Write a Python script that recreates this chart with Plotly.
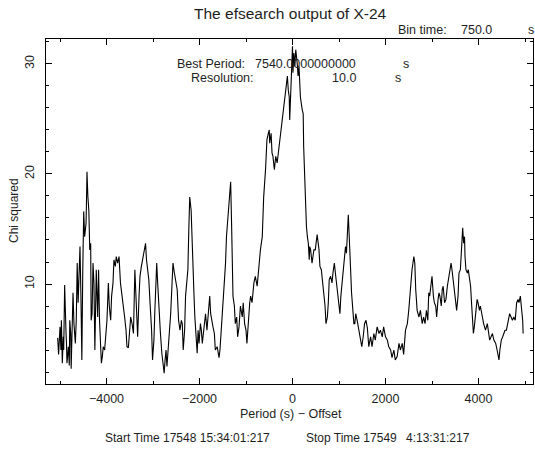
import plotly.graph_objects as go

# ---- data (period offset in s, chi squared) ----
period = [
    -5050, -5030, -5000, -4980, -4970, -4950, -4930, -4920, -4900, -4890, -4870, -4860, -4850, -4820,
    -4800, -4790, -4770, -4760, -4740, -4720, -4700, -4670, -4650, -4630, -4610, -4590, -4570, -4550,
    -4530, -4510, -4490, -4470, -4440, -4430, -4420, -4400, -4380, -4360, -4340, -4330, -4310, -4290,
    -4270, -4250, -4230, -4220, -4190, -4170, -4150, -4130, -4110, -4090, -4070, -4040, -4010, -3990,
    -3960, -3940, -3910, -3890, -3860, -3840, -3810, -3790, -3760, -3730, -3700, -3670, -3640, -3610,
    -3580, -3560, -3530, -3500, -3480, -3450, -3420, -3390, -3360, -3330, -3300, -3280, -3250, -3220,
    -3190, -3160, -3140, -3120, -3090, -3060, -3030, -3010, -2980, -2960, -2940, -2920, -2900, -2870,
    -2840, -2810, -2780, -2760, -2740, -2720, -2700, -2670, -2650, -2620, -2590, -2570, -2540, -2510,
    -2480, -2450, -2420,
    -2390, -2370, -2350, -2320, -2300, -2280, -2250, -2230, -2210, -2180, -2160, -2140, -2120, -2100,
    -2080, -2050, -2030, -2010, -1980, -1960, -1940, -1910, -1870, -1840, -1800, -1780, -1760, -1730,
    -1710, -1680, -1660, -1620, -1580, -1560, -1530, -1510, -1490, -1460, -1440, -1420, -1390, -1360,
    -1330, -1310, -1300, -1280, -1250, -1230, -1200, -1180, -1150, -1120, -1080, -1060, -1030, -1000,
    -980, -950, -920, -900, -870, -830, -800, -760, -720, -690, -650, -620, -580, -550,
    -520, -500, -490, -460, -440, -420, -390, -360, -330, -290, -260, -220, -190, -150,
    -110, -90, -70, -60, -40, -20, 0, 10, 30, 50, 70, 100, 120, 140, 170,
    210, 230, 240, 260, 280, 300, 320, 340, 360, 370, 390, 420, 440, 460, 490, 530, 570, 590,
    620, 650, 670, 700, 720, 750, 770, 790, 820, 850, 870, 900, 930, 960, 1000, 1020, 1040, 1070,
    1100, 1140, 1160, 1180, 1200, 1220, 1230, 1250, 1270, 1290, 1320, 1340, 1360, 1390, 1430, 1460,
    1490, 1520, 1550, 1580, 1610, 1640, 1680, 1710, 1750, 1780, 1820, 1860, 1890, 1930, 1960, 2000,
    2040, 2070, 2110, 2140, 2180, 2210, 2250, 2290, 2320, 2360, 2390, 2430, 2470, 2500, 2540, 2570,
    2610, 2630, 2650, 2680, 2720, 2750,
    2790, 2820, 2850, 2880, 2910, 2930, 2950, 2980, 3000, 3030, 3050, 3080, 3100, 3130, 3150, 3170,
    3200, 3220, 3240, 3270, 3300, 3330, 3350, 3380, 3410, 3430, 3460, 3480, 3500, 3530, 3560, 3580,
    3610, 3630, 3650, 3660, 3680, 3700, 3710, 3730, 3760, 3780, 3800, 3830, 3850, 3870, 3890, 3910,
    3940, 3970, 3990, 4020, 4040, 4080, 4110, 4150, 4190, 4220, 4240, 4270, 4300, 4330, 4370, 4400,
    4440, 4460, 4490, 4520, 4540, 4570, 4600, 4630, 4650, 4670, 4700, 4730, 4760, 4790, 4820, 4850,
    4870, 4900, 4920, 4950, 4960,
]
chi2 = [
    5.1, 3.6, 6.1, 4.0, 6.7, 2.8, 5.2, 4.0, 9.9, 7.3, 5.5, 4.6, 2.8, 4.3,
    2.6, 6.7, 5.5, 2.3, 5.8, 9.2, 6.4, 4.6, 6.7, 11.9, 8.3, 10.4, 13.4, 8.9,
    3.1, 11.3, 16.6, 14.3, 15.5, 17.6, 20.2, 17.9, 16.7, 13.1, 13.7, 6.7, 7.3, 11.9,
    10.1, 4.0, 8.9, 11.3, 7.0, 11.3, 6.7, 4.0, 2.8, 3.4, 4.3, 4.0, 5.8, 6.7,
    10.1, 8.0, 6.7, 8.9, 10.1, 12.2, 11.6, 12.5, 11.9, 12.5, 10.1, 9.2, 8.3, 7.0,
    5.8, 4.3, 4.2, 5.8, 7.0, 6.4, 5.5, 11.3, 8.0, 5.2, 8.9, 10.7, 11.6, 12.2,
    12.8, 13.7, 12.2, 11.3, 10.4, 8.0, 5.8, 3.1, 4.9, 7.6, 10.1, 11.9, 10.1, 7.3,
    5.5, 3.7, 2.8, 1.9, 3.1, 4.0, 2.5, 4.0, 5.8, 7.3, 10.1, 11.9, 11.0, 10.1,
    9.5, 6.7, 5.8,
    6.7, 6.4, 4.0, 5.8, 8.9, 10.1, 11.3, 14.9, 17.9, 16.7, 13.4, 11.9, 9.2, 7.0,
    5.8, 3.7, 5.8, 4.6, 6.4, 5.8, 4.6, 6.1, 7.3, 5.8, 8.0, 8.9, 7.3, 6.4,
    6.1, 5.5, 4.0, 4.3, 3.3, 4.0, 5.8, 7.6, 8.0, 10.7, 11.9, 14.3, 16.1, 17.6,
    19.3, 15.5, 13.1, 8.9, 8.0, 6.4, 7.0, 5.2, 6.1, 8.0, 7.0, 8.3, 6.4, 5.8,
    4.6, 7.0, 8.3, 8.9, 8.3, 10.1, 10.7, 9.8, 12.2, 13.1, 14.3, 17.9, 20.4, 23.1,
    23.7, 24.0, 22.8, 23.7, 21.9, 21.6, 20.4, 21.6, 21.0, 22.5, 23.4, 24.6, 25.8, 27.6,
    28.9, 27.6, 27.0, 24.9, 27.9, 30.7, 31.6, 29.2, 31.0, 29.8, 31.3, 30.1, 28.9, 29.8, 27.0,
    25.8, 25.5, 22.5, 19.5, 16.4, 15.2, 14.3, 13.7, 12.2, 13.4, 13.1, 11.9, 12.5, 13.1, 13.1, 14.5, 13.1, 11.6,
    11.3, 10.1, 9.2, 8.0, 6.4, 7.0, 8.3, 10.4, 10.7, 10.1, 11.0, 11.9, 10.7, 9.5, 8.0, 7.3, 8.9, 10.1,
    11.9, 13.4, 12.8, 14.6, 16.3, 14.3, 12.8, 11.3, 9.2, 8.0, 6.4, 6.4, 7.3, 6.7, 5.8, 4.9,
    4.3, 5.2, 6.4, 6.7, 6.0, 4.3, 5.2, 4.3, 5.5, 4.9, 6.1, 5.5, 5.8, 5.2, 6.1, 5.2,
    4.9, 4.3, 4.0, 3.3, 4.0, 3.1, 3.4, 4.6, 4.0, 4.6, 3.6, 5.8, 6.4, 7.6, 10.1, 11.3,
    12.5, 11.9, 9.5, 7.6, 7.0, 7.6,
    6.4, 7.0, 6.4, 7.6, 6.7, 9.2, 8.9, 10.1, 10.7, 8.9, 8.3, 8.0, 7.0, 8.6, 9.2, 8.9,
    8.0, 9.5, 9.8, 8.3, 8.6, 9.8, 10.4, 11.0, 11.9, 11.3, 10.1, 9.5, 8.3, 7.6, 8.9, 11.0,
    11.3, 12.5, 13.7, 15.1, 13.7, 14.3, 12.5, 11.3, 11.0, 11.3, 10.7, 9.8, 8.3, 6.4, 5.5, 6.1,
    7.3, 8.6, 8.3, 7.6, 8.0, 7.0, 6.4, 5.8, 6.4, 5.5, 4.9, 5.2, 5.5, 4.9, 4.6, 4.0,
    3.1, 4.0, 4.9, 5.2, 5.5, 5.8, 5.8, 6.4, 7.0, 7.3, 7.0, 6.7, 7.0, 6.7, 8.3, 8.6,
    8.3, 8.9, 8.0, 6.7, 5.5,
]

x_tick_step = 2000
y_tick_step = 10

# ---- geometry of the reference (pixels) ----
WIDTH, HEIGHT = 535, 452
L, R, T, B = 46, 533, 39, 384
PW, PH = R - L, B - T


def px(x):
    return (x - L) / PW


def py(y):
    return (B - y) / PH


TXT = "#1e1e1e"
FONT = "Liberation Sans"

fig = go.Figure()
fig.add_trace(go.Scatter(x=period, y=chi2, mode="lines",
                         line=dict(color="black", width=1.1), showlegend=False,
                         hoverinfo="x+y"))

axis_common = dict(showline=True, linecolor="black", linewidth=1, mirror="allticks",
                   ticks="inside", ticklen=6, tickcolor="black", tickwidth=1,
                   showgrid=False, zeroline=False,
                   tickfont=dict(family=FONT, size=12.5, color=TXT))

fig.update_xaxes(range=[-5301, 5172], dtick=x_tick_step, tick0=0,
                 minor=dict(dtick=1000, ticks="inside", ticklen=3, tickcolor="black", showgrid=False),
                 ticklabelstandoff=3, **axis_common)
fig.update_yaxes(range=[0.91, 32.27], dtick=y_tick_step, tick0=0, tickangle=-90,
                 minor=dict(dtick=2, ticks="inside", ticklen=3, tickcolor="black", showgrid=False),
                 ticklabelstandoff=6, **axis_common)


def ann(text, x, y, size=12.5, xanchor="left", angle=0):
    return dict(text=text, x=px(x), y=py(y), xref="paper", yref="paper",
                xanchor=xanchor, yanchor="middle", showarrow=False, textangle=angle,
                font=dict(family=FONT, size=size, color=TXT))


annotations = [
    ann("The efsearch output of X-24", 290, 13, size=15.5, xanchor="center"),
    ann("Bin time:", 396, 30),
    ann("750.0", 459, 30),
    ann("s", 526, 30),
    ann("Best Period:", 175, 64),
    ann("7540.0000000000", 253, 64),
    ann("s", 401, 64),
    ann("Resolution:", 189, 78),
    ann("10.0", 330, 78),
    ann("s", 393, 78),
    ann("Chi squared", 14, 211, size=12, xanchor="center", angle=-90),
    ann("Period (s) \u2212 Offset", 291, 414, size=12.5, xanchor="center"),
    ann("Start Time 17548 15:34:01:217", 103, 438, size=12),
    ann("Stop Time 17549", 304, 438, size=12),
    ann("4:13:31:217", 404, 438, size=12),
]

fig.update_layout(width=WIDTH, height=HEIGHT,
                  margin=dict(l=L, r=WIDTH - R, t=T, b=HEIGHT - B, pad=0),
                  paper_bgcolor="white", plot_bgcolor="white",
                  annotations=annotations)

fig.write_html("out.html")
